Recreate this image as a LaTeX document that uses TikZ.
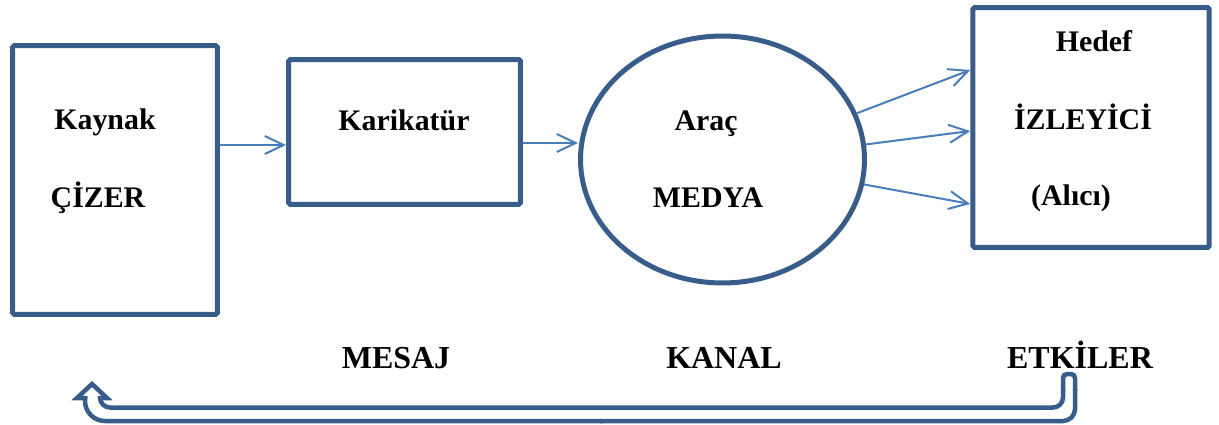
\documentclass[tikz,border=0pt]{standalone}
\usepackage{fontspec}
\setmainfont{Liberation Serif}
\usetikzlibrary{shapes.geometric,arrows.meta}
\definecolor{bord}{HTML}{385D8A}
\definecolor{arrc}{HTML}{4A7EBB}
\begin{document}
\begin{tikzpicture}[x=0.02cm,y=-0.02cm,
  box/.style={draw=bord,line width=0.1cm,inner sep=0pt,rectangle,rounded corners=1pt},
  ell/.style={draw=bord,line width=0.1cm,inner sep=0pt,ellipse},
  lbl/.style={font=\fontsize{17}{20}\selectfont\bfseries,anchor=base,inner sep=0pt},
  blbl/.style={font=\fontsize{18.2}{21}\selectfont\bfseries,anchor=base,inner sep=0pt},
  conn/.style={draw=arrc,line width=0.04cm,-{Straight Barb[length=0.38cm,width=0.36cm]}},
  fb/.style={draw=bord,line width=0.09cm}]
\useasboundingbox (0,0) rectangle (1219,425);
% boxes
\node[box,minimum width=4.1cm,minimum height=5.38cm] (kaynak) at (115,180) {};
\node[box,minimum width=4.64cm,minimum height=2.9cm] (karikatur) at (404.5,132) {};
\node[ell,minimum width=5.68cm,minimum height=4.94cm] (medya) at (722.5,159.5) {};
\node[box,minimum width=4.73cm,minimum height=4.8cm] (hedef) at (1091,127.5) {};
% connectors
\coordinate (r1) at (0,145);
\coordinate (r2) at (0,143);
\coordinate (t1) at (0,70);
\coordinate (t2) at (0,131);
\coordinate (t3) at (0,204);
\draw[conn] (kaynak.east |- r1) -- (karikatur.west |- r1);
\draw[conn] (karikatur.east |- r2) -- (medya.west |- r2);
\draw[conn] (medya.19.6) -- (hedef.west |- t1);
\draw[conn] (medya.6.2) -- (hedef.west |- t2);
\draw[conn] (medya.-10.2) -- (hedef.west |- t3);
% labels
\node[lbl] (l1) at (105,130) {Kaynak};
\node[lbl] (l2) at (98,208) {ÇİZER};
\node[lbl] (l3) at (404,131) {Karikatür};
\node[lbl] (l4) at (706,131) {Araç};
\node[lbl] (l5) at (708,208) {MEDYA};
\node[lbl] (l6) at (1094,52) {Hedef};
\node[lbl] (l7) at (1083,130) {İZLEYİCİ};
\node[lbl] (l8) at (1071,206) {(Alıcı)};
\node[blbl] (l9) at (396,368) {MESAJ};
\node[blbl] (l10) at (724,368) {KANAL};
\node[blbl] (l11) at (1080,368) {ETKİLER};
% feedback arrow (outlined)
\draw[fb,rounded corners=0.2cm] (100,396) -- (100,407.5) -- (1063,407.5) -- (1063,389);
\draw[fb,rounded corners=0.08cm] (1063,391) -- (1063,374) -- (1075,374) -- (1075,391);
\draw[fb,rounded corners=0.24cm] (1075,389) -- (1075,421) -- (600,421);
\draw[fb,rounded corners=0.4cm] (602,421) -- (85,421) -- (85,396);
\draw[fb,line join=miter] (85,399) -- (85,398) -- (77,398) -- (92,384) -- (107,398) -- (100,398) -- (100,399);
\end{tikzpicture}
\end{document}
